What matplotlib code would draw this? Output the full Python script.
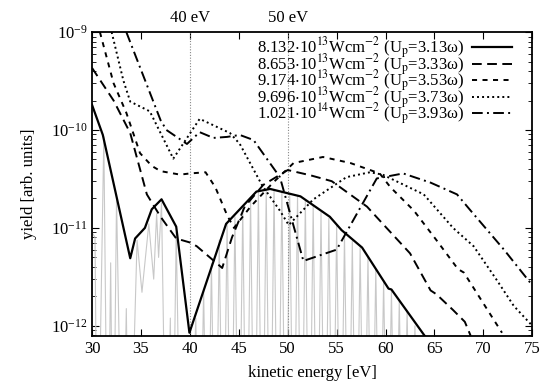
import matplotlib
matplotlib.use('Agg')
import matplotlib.pyplot as plt
from matplotlib.ticker import NullFormatter

plt.rcParams['font.family'] = ['Liberation Serif', 'DejaVu Serif']
plt.rcParams['mathtext.fontset'] = 'stix'
plt.rcParams['font.size'] = 12

# grey oscillating spectrum (peaks and nulls)
grey_x = [30.0, 30.3, 30.55, 31.2, 31.6, 31.9, 32.15, 32.5, 33.1, 33.5, 33.8,
          34.6, 35.1, 35.8, 36.3, 36.6, 36.8, 37.1, 37.6, 38.0, 38.2, 38.6, 39.1,
          39.7, 40.0, 40.6, 41.0, 41.4, 41.8, 42.2, 42.6, 43.0, 43.4, 43.8, 44.2,
          44.6, 45.0, 45.4, 45.8, 46.2, 46.6, 47.0, 47.4, 47.8, 48.2, 48.6, 49.0,
          49.4, 49.8, 50.2, 50.6, 51.0, 51.4, 51.8, 52.2, 52.6, 53.0, 53.4, 53.8,
          54.2, 54.6, 55.0, 55.4, 55.8, 56.2, 56.6, 57.0, 57.4, 57.8, 58.2, 58.6,
          59.0, 59.4, 59.8, 60.2, 60.6, 61.0, 61.4, 61.8, 62.2, 62.6, 63.0, 63.4]
grey_y = [9e-12, 8e-12, 1e-14, 8.5e-11, 1e-14, 4.4e-12, 1e-14, 2.0e-11, 1e-14, 1.5e-12, 1e-14,
          7.5e-12, 2.2e-12, 1.1e-11, 3.0e-12, 1.4e-11, 5e-12, 1.8e-11, 1e-14, 1.2e-12, 1e-14, 9e-12, 1e-14,
          6e-13, 1e-14, 1.2e-12, 1e-14, 2.3e-12, 1e-14, 4.3e-12, 1e-14, 7.5e-12, 1e-14, 1.1e-11, 1e-14,
          1.3e-11, 1e-14, 1.6e-11, 1e-14, 2.0e-11, 1e-14, 2.3e-11, 1e-14, 2.4e-11, 1e-14, 2.45e-11, 1e-14,
          2.35e-11, 1e-14, 2.25e-11, 1e-14, 2.1e-11, 1e-14, 1.9e-11, 1e-14, 1.7e-11, 1e-14, 1.45e-11, 1e-14,
          1.25e-11, 1e-14, 1.05e-11, 1e-14, 8.5e-12, 1e-14, 7.3e-12, 1e-14, 6.3e-12, 1e-14, 5.0e-12, 1e-14,
          3.8e-12, 1e-14, 2.9e-12, 1e-14, 2.3e-12, 1e-14, 1.8e-12, 1e-14, 1.4e-12, 1e-14, 1.0e-12, 1e-14]

x1 = [30.0, 31.1, 33.9, 34.4, 35.4, 36.1, 37.1, 38.6, 39.95, 43.7, 46.8, 48.2,
      51.3, 54.3, 55.5, 57.6, 60.3, 60.6, 64.0]
y1 = [1.8e-10, 8.9e-11, 4.9e-12, 7.8e-12, 1.0e-11, 1.55e-11, 1.96e-11, 1.03e-11,
      8.5e-13, 1.1e-11, 2.35e-11, 2.5e-11, 2.1e-11, 1.3e-11, 9.5e-12, 6.3e-12,
      2.4e-12, 2.35e-12, 7.9e-13]

x2 = [30.0, 32.2, 33.9, 35.6, 37.0, 38.6, 40.0, 40.7, 43.3, 44.3, 45.6, 47.5,
      50.0, 52.3, 54.5, 58.1, 60.1, 62.5, 64.6, 65.2, 66.9, 68.1, 68.7]
y2 = [4.3e-10, 2.0e-10, 9.3e-11, 2.2e-11, 1.3e-11, 7.8e-12, 7.1e-12, 6.5e-12,
      3.9e-12, 8e-12, 1.65e-11, 2.75e-11, 3.9e-11, 3.45e-11, 3.0e-11, 1.65e-11,
      1.0e-11, 5.5e-12, 2.3e-12, 2.1e-12, 1.45e-12, 1.1e-12, 7.9e-13]

x3 = [30.8, 32.2, 33.5, 34.9, 36.1, 37.0, 39.0, 40.0, 41.6, 42.6, 43.8, 44.5,
      46.2, 48.5, 50.6, 53.6, 56.4, 59.4, 60.5, 62.9, 65.2, 67.4, 68.0, 71.9]
y3 = [1e-9, 3.0e-10, 1.5e-10, 5.8e-11, 4.3e-11, 3.8e-11, 3.5e-11, 3.6e-11,
      3.7e-11, 2.6e-11, 1.35e-11, 1.0e-11, 1.65e-11, 2.9e-11, 4.6e-11, 5.3e-11,
      4.6e-11, 3.6e-11, 2.6e-11, 1.5e-11, 7.5e-12, 3.8e-12, 3.5e-12, 8.5e-13]

x4 = [32.0, 33.2, 33.9, 35.9, 38.3, 41.0, 44.1, 45.1, 47.4, 49.2, 50.1, 52.6,
      56.0, 58.4, 59.7, 63.9, 66.9, 69.0, 71.4, 73.1, 75.0]
y4 = [1e-9, 3.2e-10, 1.95e-10, 1.55e-10, 5.1e-11, 1.3e-10, 9.3e-11, 7.2e-11,
      2.7e-11, 1.5e-11, 1.07e-11, 1.95e-11, 3.3e-11, 3.7e-11, 3.5e-11, 2.2e-11,
      1.0e-11, 6.5e-12, 2.9e-12, 1.6e-12, 1.0e-12]

x5 = [33.5, 37.0, 37.6, 39.7, 41.0, 42.4, 43.8, 45.1, 46.5, 49.2, 51.6, 55.0,
      59.1, 61.8, 64.6, 67.3, 68.7, 72.1, 74.8, 75.0]
y5 = [1e-9, 1.26e-10, 1.0e-10, 7.2e-11, 9.5e-11, 8.3e-11, 8.5e-11, 8.9e-11,
      7.9e-11, 3.3e-11, 4.6e-12, 6.0e-12, 3.2e-11, 3.6e-11, 2.9e-11, 2.2e-11,
      1.5e-11, 6.0e-12, 2.75e-12, 2.6e-12]

labels = [r'8.132$\cdot$10$^{13}$Wcm$^{-2}$ (U$_{\rm p}$=3.13ω)',
          r'8.653$\cdot$10$^{13}$Wcm$^{-2}$ (U$_{\rm p}$=3.33ω)',
          r'9.174$\cdot$10$^{13}$Wcm$^{-2}$ (U$_{\rm p}$=3.53ω)',
          r'9.696$\cdot$10$^{13}$Wcm$^{-2}$ (U$_{\rm p}$=3.73ω)',
          r'1.021$\cdot$10$^{14}$Wcm$^{-2}$ (U$_{\rm p}$=3.93ω)']

fig = plt.figure(figsize=(5.58, 3.91), dpi=100)
ax = fig.add_axes([0.165, 0.141, 0.789, 0.777])

ax.plot(grey_x, grey_y, color='#c8c8c8', lw=0.8)
ax.axvline(40, color='#888888', lw=0.8, ls=(0, (1, 1.5)))
ax.axvline(50, color='#888888', lw=0.8, ls=(0, (1, 1.5)))

ax.plot(x1, y1, color='black', lw=1.6, label=labels[0])
ax.plot(x2, y2, color='black', lw=1.4, dashes=(5, 2.8), label=labels[1])
ax.plot(x3, y3, color='black', lw=1.4, dashes=(2.6, 2.8), label=labels[2])
ax.plot(x4, y4, color='black', lw=1.4, dashes=(1, 1.6), label=labels[3])
ax.plot(x5, y5, color='black', lw=1.4, dashes=(5.5, 2.2, 1, 2.2), label=labels[4])

ax.set_yscale('log')
ax.set_xlim(30, 75)
ax.set_ylim(7.9e-13, 1e-9)
ax.set_xticks(range(30, 76, 5))
ax.yaxis.set_minor_formatter(NullFormatter())
ax.tick_params(which='both', direction='in', top=True, right=True)
ax.tick_params(which='major', length=5)
ax.tick_params(which='minor', length=3)
for s in ax.spines.values():
    s.set_linewidth(1.3)

ax.text(40, 1.15e-9, '40 eV', ha='center', va='bottom')
ax.text(50, 1.15e-9, '50 eV', ha='center', va='bottom')

ax.set_xlabel('kinetic energy [eV]', labelpad=6)
ax.set_ylabel('yield [arb. units]', labelpad=10)

ax.legend(loc='upper right', bbox_to_anchor=(0.97, 1.01), frameon=False,
          markerfirst=False, handlelength=2.4, handletextpad=0.5,
          labelspacing=-0.55, borderaxespad=0.0, fontsize=12)

fig.savefig('out.png', dpi=100)
